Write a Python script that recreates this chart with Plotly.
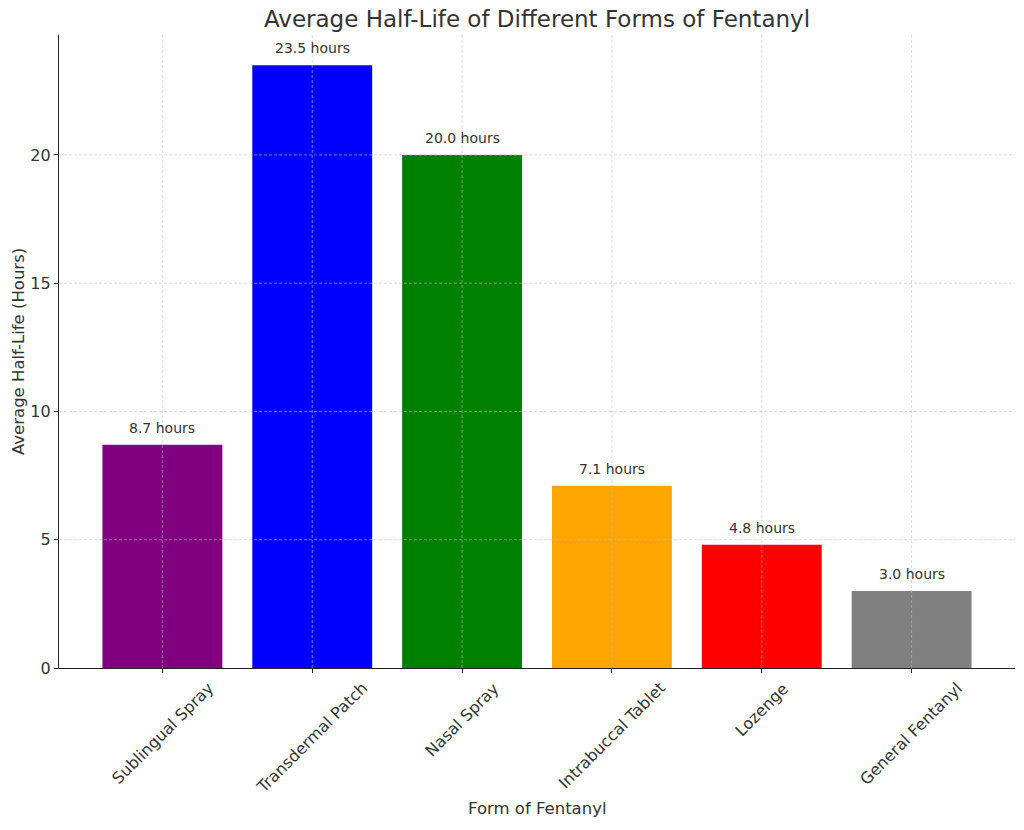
import plotly.graph_objects as go

categories = ["Sublingual Spray", "Transdermal Patch", "Nasal Spray",
              "Intrabuccal Tablet", "Lozenge", "General Fentanyl"]
half_life = [8.7, 23.5, 20.0, 7.1, 4.8, 3.0]
bar_colors = ["purple", "blue", "green", "orange", "red", "gray"]
y_ticks = [0, 5, 10, 15, 20]

font = "DejaVu Sans, sans-serif"
txt = "#333333"
xs = list(range(len(categories)))

fig = go.Figure()
fig.add_trace(go.Bar(x=xs, y=half_life, marker_color=bar_colors,
                     marker_line_width=0, width=0.8, hoverinfo="skip"))

# value labels
for i, v in zip(xs, half_life):
    fig.add_annotation(x=i, y=v, text=f"{v:.1f} hours", showarrow=False,
                       yanchor="bottom", yshift=7,
                       font=dict(family=font, size=14, color=txt))

# rotated category labels, centred on their ticks
for i, c in zip(xs, categories):
    fig.add_annotation(x=i, xref="x", y=0, yref="paper", text=c,
                       showarrow=False, textangle=-45,
                       xanchor="center", yanchor="top", yshift=-8,
                       font=dict(family=font, size=16, color=txt))

# axis titles
fig.add_annotation(x=0.5, xref="paper", y=0, yref="paper", text="Form of Fentanyl",
                   showarrow=False, xanchor="center", yanchor="middle", yshift=-140,
                   font=dict(family=font, size=16.5, color=txt))
fig.add_annotation(x=0, xref="paper", y=0.5, yref="paper",
                   text="Average Half-Life (Hours)", textangle=-90,
                   showarrow=False, xanchor="center", yanchor="middle", xshift=-40.5,
                   font=dict(family=font, size=16.5, color=txt))

# grid lines drawn above bars (like the reference)
grid = dict(color="rgba(190,190,190,0.7)", width=0.8, dash="3px,2px")
for i in xs:
    fig.add_shape(type="line", xref="x", yref="paper", x0=i, x1=i, y0=0, y1=1,
                  line=grid, layer="above")
for t in y_ticks[1:]:
    fig.add_shape(type="line", xref="paper", yref="y", x0=0, x1=1, y0=t, y1=t,
                  line=grid, layer="above")

fig.update_layout(
    width=1024, height=830,
    margin=dict(l=59, r=9, t=35, b=162),
    paper_bgcolor="white", plot_bgcolor="white",
    showlegend=False,
    title=dict(text="Average Half-Life of Different Forms of Fentanyl",
               x=0.5, xref="paper", xanchor="center", y=0.977, yanchor="middle",
               font=dict(family=font, size=23, color=txt)),
    font=dict(family=font, size=16, color=txt),
)
fig.update_xaxes(
    range=[-0.69, 5.69], tickmode="array", tickvals=xs, showticklabels=False,
    showgrid=False, zeroline=False,
    showline=True, linecolor="#222222", linewidth=1.3,
    ticks="outside", ticklen=4, tickcolor="#222222",
)
fig.update_yaxes(
    range=[0, 24.675], tickmode="array", tickvals=y_ticks,
    showgrid=False, zeroline=False,
    showline=True, linecolor="#222222", linewidth=1.3,
    ticks="outside", ticklen=4, tickcolor="#222222",
    tickfont=dict(family=font, size=16, color=txt),
)

fig.write_html("out.html")
